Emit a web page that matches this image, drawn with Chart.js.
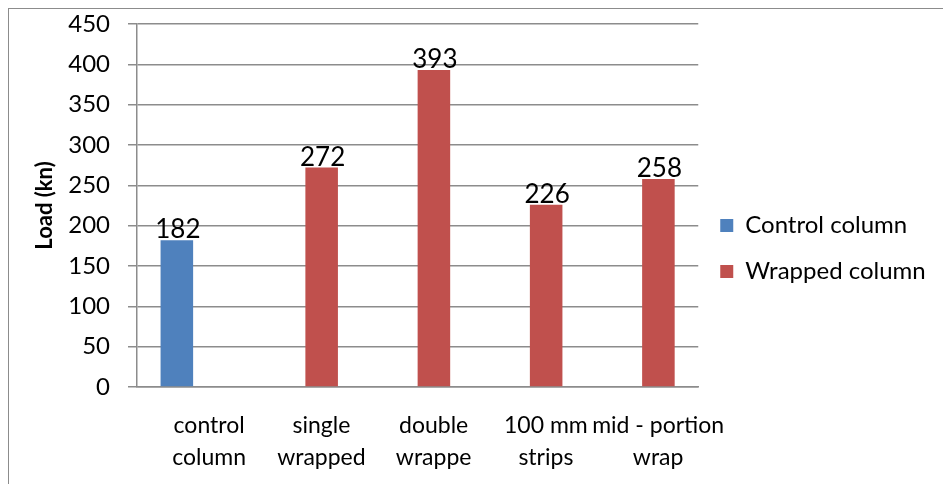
<!DOCTYPE html>
<html>
<head>
<meta charset="utf-8">
<script src="https://cdn.jsdelivr.net/npm/chart.js@4.4.0/dist/chart.umd.min.js"></script>
<style>
  html, body { margin: 0; padding: 0; background: #fff; overflow: hidden; }
  #frame { position: absolute; left: 8px; top: 8px; width: 1000px; height: 1000px; border: 1px solid #8c8c8c; }
  #wrap { position: absolute; left: 0; top: 0; width: 943px; height: 484px; }
</style>
</head>
<body>
<div id="frame"></div>
<div id="wrap"><canvas id="chart"></canvas></div>
<script>
  //Chart data
  const categories = [
    ["control", "column"],
    ["single", "wrapped"],
    ["double", "wrappe"],
    ["100 mm", "strips"],
    ["mid - portion", "wrap"],
  ];
  const controlValues = [182, null, null, null, null];
  const wrappedValues = [null, 272, 393, 226, 258];
  const yTicks = [0, 50, 100, 150, 200, 250, 300, 350, 400, 450];

  const gridGray = "#8c8c8c";
  const fontName = "Lato, 'Liberation Sans', sans-serif";

  //Value labels drawn above each bar
  const valueLabels = {
    id: "valueLabels",
    afterDatasetsDraw(chart) {
      const ctx = chart.ctx;
      ctx.save();
      ctx.font = "26px " + fontName;
      ctx.fillStyle = "#000";
      ctx.textAlign = "center";
      ctx.textBaseline = "alphabetic";
      chart.data.datasets.forEach((ds, i) => {
        chart.getDatasetMeta(i).data.forEach((bar, j) => {
          if (ds.data[j] == null) return;
          ctx.fillText(String(ds.data[j]), bar.x + 1, bar.y - 2);
        });
      });
      ctx.restore();
    },
  };

  new Chart("chart", {
    type: "bar",
    data: {
      labels: categories,
      datasets: [
        { label: "Control column", data: controlValues, backgroundColor: "#4F81BD" },
        { label: "Wrapped column", data: wrappedValues, backgroundColor: "#C0504D" },
      ],
    },
    options: {
      responsive: true,
      maintainAspectRatio: false,
      animation: false,
      categoryPercentage: 0.58,
      barPercentage: 1.0,
      layout: { padding: { top: 24, right: 12, bottom: 11, left: 0 } },
      plugins: {
        tooltip: { enabled: false },
        legend: {
          position: "right",
          labels: {
            font: { family: fontName, size: 24 },
            color: "#000",
            boxWidth: 13,
            boxHeight: 13,
            padding: 22,
          },
        },
      },
      scales: {
        x: {
          afterFit(scale) {
            scale.height = 86;
          },
          grid: { drawOnChartArea: false, drawTicks: false },
          border: { color: gridGray, width: 1.5 },
          ticks: {
            font: { family: fontName, size: 23, lineHeight: 1.4 },
            color: "#000",
            padding: 22,
            labelOffset: 16,
            maxRotation: 0,
            autoSkip: false,
          },
        },
        y: {
          min: 0,
          max: 450,
          afterFit(scale) {
            scale.width = 137;
            scale.paddingTop = 10;
          },
          afterBuildTicks(scale) {
            scale.ticks = yTicks.map((v) => ({ value: v }));
          },
          grid: { color: gridGray, lineWidth: 1.5, tickLength: 9 },
          border: { color: gridGray, width: 1.5 },
          ticks: {
            font: { family: fontName, size: 24 },
            color: "#000",
            padding: 18,
          },
          title: {
            display: true,
            text: "Load (kn)",
            font: { family: fontName, size: 22, weight: "bold" },
            color: "#000",
            padding: { top: 32, bottom: 0 },
          },
        },
      },
    },
    plugins: [valueLabels],
  });
</script>
</body>
</html>
